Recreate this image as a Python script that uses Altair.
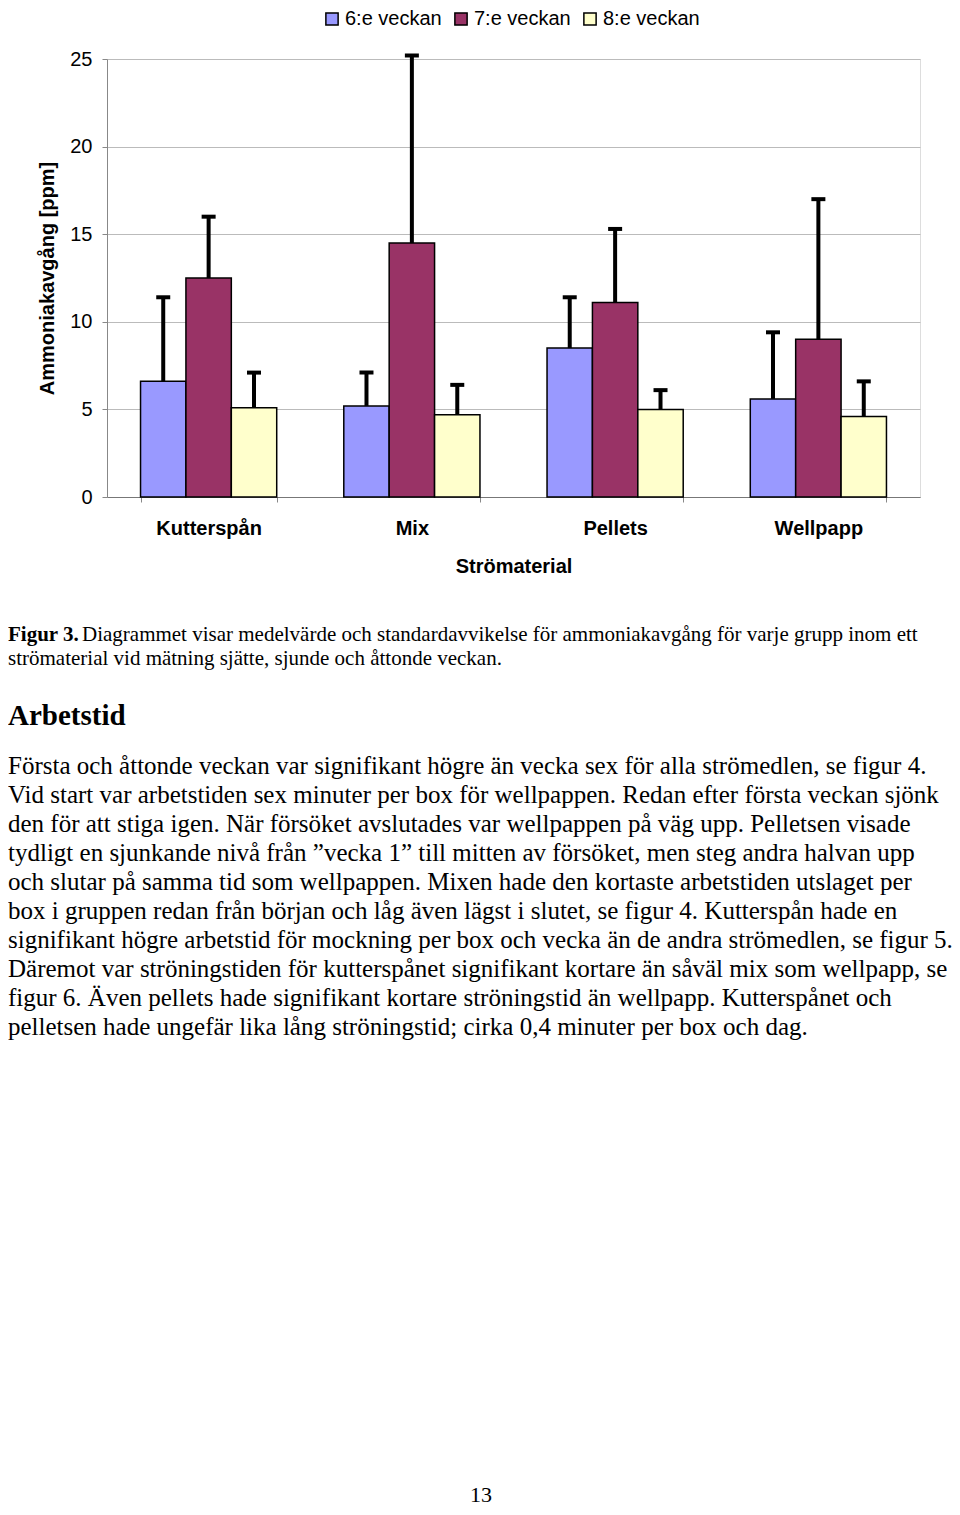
import altair as alt
import pandas as pd

# ---- data ----
categories = ["Kutterspån", "Mix", "Pellets", "Wellpapp"]
weeks = ["6:e veckan", "7:e veckan", "8:e veckan"]
week_colors = ["#9999FF", "#993366", "#FFFFCC"]

mean_w6 = [6.6, 5.2, 8.5, 5.6]
mean_w7 = [12.5, 14.5, 11.1, 9.0]
mean_w8 = [5.1, 4.7, 5.0, 4.6]
sd_w6 = [4.8, 1.9, 2.9, 3.8]
sd_w7 = [3.5, 10.7, 4.2, 8.0]
sd_w8 = [2.0, 1.7, 1.1, 2.0]

y_ticks = [0, 5, 10, 15, 20, 25]

caption_bold = "Figur 3."
caption_line1 = "Diagrammet visar medelvärde och standardavvikelse för ammoniakavgång för varje grupp inom ett"
caption_line2 = "strömaterial vid mätning sjätte, sjunde och åttonde veckan."
heading = "Arbetstid"
paragraph_lines = [
    "Första och åttonde veckan var signifikant högre än vecka sex för alla strömedlen, se figur 4.",
    "Vid start var arbetstiden sex minuter per box för wellpappen. Redan efter första veckan sjönk",
    "den för att stiga igen. När försöket avslutades var wellpappen på väg upp. Pelletsen visade",
    "tydligt en sjunkande nivå från ”vecka 1” till mitten av försöket, men steg andra halvan upp",
    "och slutar på samma tid som wellpappen. Mixen hade den kortaste arbetstiden utslaget per",
    "box i gruppen redan från början och låg även lägst i slutet, se figur 4. Kutterspån hade en",
    "signifikant högre arbetstid för mockning per box och vecka än de andra strömedlen, se figur 5.",
    "Däremot var ströningstiden för kutterspånet signifikant kortare än såväl mix som wellpapp, se",
    "figur 6. Även pellets hade signifikant kortare ströningstid än wellpapp. Kutterspånet och",
    "pelletsen hade ungefär lika lång ströningstid; cirka 0,4 minuter per box och dag.",
]
page_number = "13"

# ---- table ----
rows = []
for w, means, sds in zip(weeks, [mean_w6, mean_w7, mean_w8], [sd_w6, sd_w7, sd_w8]):
    for c, m, s in zip(categories, means, sds):
        rows.append({"category": c, "week": w, "mean": m, "sd": s, "upper": round(m + s, 2)})
df = pd.DataFrame(rows)

SANS = "Liberation Sans"
SERIF = "Liberation Serif"

x_enc = alt.X(
    "category:N", sort=categories,
    scale=alt.Scale(paddingInner=0.33, paddingOuter=0.165),
    axis=alt.Axis(
        title="Strömaterial", labelAngle=0, labelFont=SANS, labelFontSize=20,
        labelFontWeight="bold", labelColor="black", labelPadding=16,
        titleFont=SANS, titleFontSize=20, titleFontWeight="bold", titleColor="black",
        titlePadding=18, tickBand="extent", tickSize=5, tickColor="#888888",
        domainColor="#777777", grid=False,
    ),
)
xoff_enc = alt.XOffset("week:N", sort=weeks, scale=alt.Scale(paddingInner=0, paddingOuter=0))

base = alt.Chart(df).encode(x=x_enc, xOffset=xoff_enc)

bars = base.mark_bar(stroke="black", strokeWidth=1.5).encode(
    y=alt.Y(
        "mean:Q", scale=alt.Scale(domain=[0, 25], nice=False),
        axis=alt.Axis(
            title="Ammoniakavgång [ppm]", values=y_ticks, labelFont=SANS, labelFontSize=20,
            labelColor="black", labelPadding=10, tickSize=5, tickColor="#888888",
            domainColor="#888888", gridColor="#BBBBBB", grid=True,
            titleFont=SANS, titleFontSize=20, titleFontWeight="bold", titleColor="black",
            titlePadding=12,
        ),
    ),
    color=alt.Color(
        "week:N", sort=weeks, scale=alt.Scale(domain=weeks, range=week_colors),
        legend=alt.Legend(
            title=None, orient="none", legendX=215, legendY=-50, direction="horizontal",
            symbolType="square", symbolSize=150, symbolStrokeColor="black",
            symbolStrokeWidth=1.5, labelFont=SANS, labelFontSize=20, labelColor="black",
            labelOffset=3, columnPadding=9, padding=0,
        ),
    ),
)

err = base.mark_rule(color="black", strokeWidth=4).encode(y="mean:Q", y2="upper:Q")
caps = base.mark_tick(color="black", thickness=4, size=14, opacity=1).encode(y="upper:Q")

one = pd.DataFrame({"k": [0]})
X0 = -99

cap_b = alt.Chart(one).mark_text(font=SERIF, fontSize=21, fontWeight="bold", align="left",
                                 baseline="alphabetic", color="black").encode(
    x=alt.value(X0), y=alt.value(582), text=alt.value(caption_bold))
cap_1 = alt.Chart(one).mark_text(font=SERIF, fontSize=21, align="left",
                                 baseline="alphabetic", color="black").encode(
    x=alt.value(-25), y=alt.value(582), text=alt.value(caption_line1))
cap_2 = alt.Chart(one).mark_text(font=SERIF, fontSize=21, align="left",
                                 baseline="alphabetic", color="black").encode(
    x=alt.value(X0), y=alt.value(606), text=alt.value(caption_line2))
head = alt.Chart(one).mark_text(font=SERIF, fontSize=29, fontWeight="bold", align="left",
                                baseline="alphabetic", color="black").encode(
    x=alt.value(X0), y=alt.value(666), text=alt.value(heading))
para = alt.Chart(one).mark_text(font=SERIF, fontSize=25, align="left", lineHeight=29,
                                baseline="alphabetic", color="black").encode(
    x=alt.value(X0), y=alt.value(715), text=alt.value(paragraph_lines))
pnum = alt.Chart(one).mark_text(font=SERIF, fontSize=22, align="center",
                                baseline="alphabetic", color="black").encode(
    x=alt.value(374), y=alt.value(1443), text=alt.value(page_number))

chart = alt.layer(bars, err, caps, cap_b, cap_1, cap_2, head, para, pnum).properties(
    width=813, height=438,
    autosize=alt.AutoSizeParams(type="none"),
    padding={"left": 99, "top": 51, "right": 32, "bottom": 1009},
).configure_view(stroke="#888888", strokeWidth=1).configure(background="white")

chart.save("out.html", embed_options={"renderer": "svg", "actions": False})
